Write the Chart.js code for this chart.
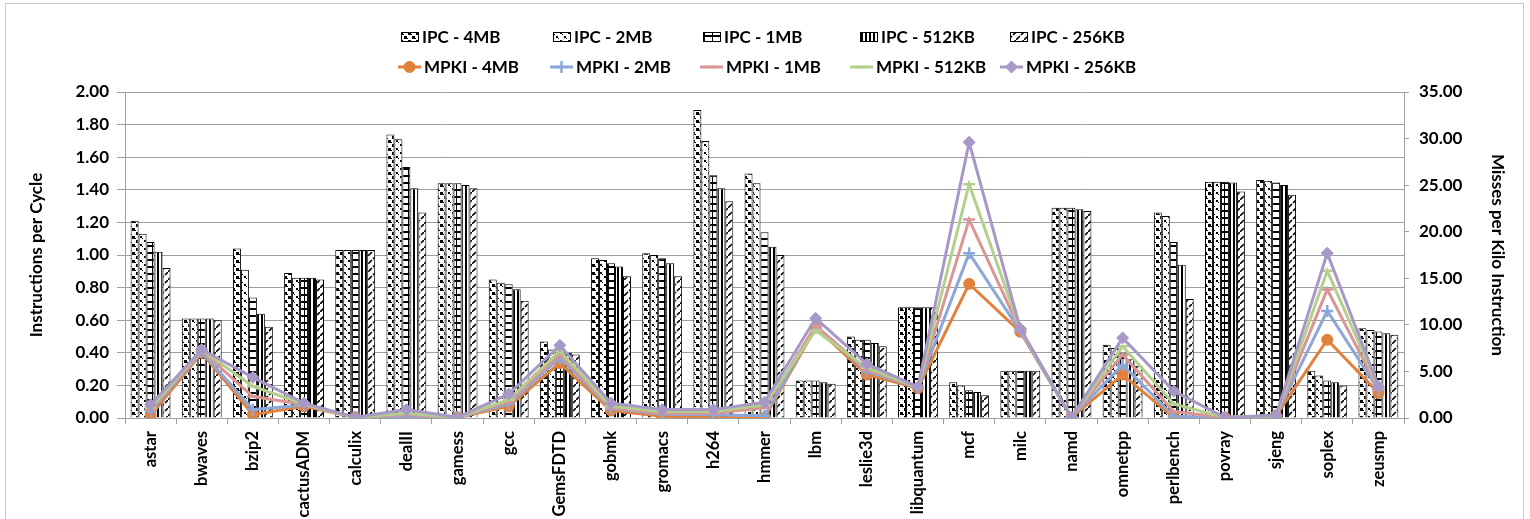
<!DOCTYPE html>
<html>
<head>
<meta charset="utf-8">
<script src="https://cdn.jsdelivr.net/npm/chart.js@4.4.1/dist/chart.umd.min.js"></script>
<style>
  html, body { margin: 0; padding: 0; background: #fff; }
  #wrap { position: relative; width: 1530px; height: 519px; }
</style>
</head>
<body>
<div id="wrap"><canvas id="c" width="1530" height="519"></canvas></div>
<script>
// SPEC CPU2006 benchmarks
const categories = ['astar','bwaves','bzip2','cactusADM','calculix','dealII','gamess','gcc','GemsFDTD','gobmk','gromacs','h264','hmmer','lbm','leslie3d','libquantum','mcf','milc','namd','omnetpp','perlbench','povray','sjeng','soplex','zeusmp'];

// Instructions per cycle, per last-level cache size
const ipc4MB   = [1.21,0.61,1.04,0.89,1.03,1.74,1.44,0.85,0.47,0.98,1.01,1.89,1.50,0.23,0.50,0.68,0.22,0.29,1.29,0.45,1.26,1.45,1.46,0.29,0.55];
const ipc2MB   = [1.13,0.61,0.91,0.86,1.03,1.71,1.44,0.83,0.42,0.97,1.00,1.70,1.44,0.23,0.48,0.68,0.20,0.29,1.29,0.43,1.24,1.45,1.455,0.26,0.54];
const ipc1MB   = [1.08,0.61,0.74,0.86,1.03,1.54,1.44,0.82,0.40,0.95,0.98,1.49,1.14,0.23,0.48,0.68,0.17,0.29,1.29,0.40,1.08,1.45,1.445,0.23,0.53];
const ipc512KB = [1.02,0.61,0.64,0.86,1.03,1.41,1.43,0.79,0.40,0.93,0.95,1.41,1.05,0.22,0.46,0.68,0.16,0.29,1.28,0.36,0.94,1.445,1.43,0.22,0.52];
const ipc256KB = [0.92,0.60,0.56,0.85,1.03,1.26,1.41,0.72,0.39,0.87,0.87,1.33,1.00,0.21,0.44,0.68,0.14,0.29,1.27,0.32,0.73,1.39,1.37,0.20,0.51];

// Misses per kilo instruction, per last-level cache size
const mpki4MB   = [0.25,7.0,0.36,1.25,0.07,0.02,0.07,1.25,5.9,0.8,0.2,0.02,0.02,9.7,4.66,3.2,14.4,9.25,0.05,4.66,0.05,0.05,0.25,8.4,2.7];
const mpki2MB   = [0.7,7.1,0.9,1.4,0.07,0.2,0.07,1.5,6.45,1.0,0.4,0.35,0.25,9.9,5.0,3.25,17.7,9.3,0.05,5.7,0.2,0.05,0.25,11.5,3.0];
const mpki1MB   = [0.9,7.2,2.3,1.45,0.07,0.35,0.07,1.7,6.8,1.1,0.5,0.5,1.1,9.9,5.2,3.3,21.3,9.4,0.05,6.8,0.7,0.05,0.25,13.8,3.1];
const mpki512KB = [1.1,7.3,3.4,1.5,0.07,0.5,0.07,1.97,7.2,1.25,0.7,0.7,1.4,9.4,5.4,3.3,25.1,9.5,0.05,7.7,1.5,0.05,0.25,15.8,3.3];
const mpki256KB = [1.43,7.35,4.37,1.6,0.07,0.9,0.07,2.58,7.8,1.6,0.9,0.9,1.7,10.7,5.8,3.35,29.6,9.6,0.05,8.6,2.9,0.05,0.3,17.7,3.4];

// Axis tick settings
const ipcTicks  = { min: 0, max: 2, step: 0.2 };
const mpkiTicks = { min: 0, max: 35, step: 5 };

const FONT = 'Lato, "Open Sans", sans-serif';

// Black-and-white hatch fills for the IPC bars
function hatch(w, h, draw) {
  const c = document.createElement('canvas');
  c.width = w; c.height = h;
  const g = c.getContext('2d');
  g.fillStyle = '#fff'; g.fillRect(0, 0, w, h);
  g.fillStyle = '#000'; g.strokeStyle = '#000';
  draw(g);
  return g.createPattern(c, 'repeat');
}
const fill4MB = hatch(8, 8, g => { g.fillRect(0, 0, 3, 3); g.fillRect(4, 4, 3, 3); g.fillRect(3, 2, 1, 1); g.fillRect(7, 6, 1, 1); });
const fill2MB = hatch(8, 8, g => { g.fillRect(0, 0, 2, 2); g.fillRect(4, 4, 2, 2); g.fillRect(2, 2, 1, 1); g.fillRect(6, 6, 1, 1); });
const fill1MB = hatch(8, 7, g => { g.fillRect(0, 0, 8, 2); g.fillRect(0, 0, 1, 7); });
const fill512 = hatch(4, 2, g => { g.fillRect(1, 0, 2, 2); });
const fill256 = hatch(8, 8, g => { g.lineWidth = 1.6; g.beginPath(); g.moveTo(0, 8); g.lineTo(4, 4); g.moveTo(5, 3); g.lineTo(8, 0); g.stroke(); });

const lineColors = { m4: '#E2813B', m2: '#8BA8D8', m1: '#D99694', m512: '#B3CF8D', m256: '#A798C8' };

function barSet(label, data, fill) {
  return { type: 'bar', label, data, backgroundColor: fill, borderColor: '#000', borderWidth: 1,
           yAxisID: 'y', order: 10, categoryPercentage: 0.78, barPercentage: 1.0 };
}
function lineSet(label, data, color, style, radius, order) {
  return { type: 'line', label, data, borderColor: color, backgroundColor: color, borderWidth: 3,
           pointStyle: style, pointRadius: radius, pointBorderColor: color, pointBackgroundColor: color,
           pointBorderWidth: style === 'circle' || style === 'rectRot' ? 1 : 2.5,
           tension: 0, yAxisID: 'y1', order };
}

const datasets = [
  barSet('IPC - 4MB', ipc4MB, fill4MB),
  barSet('IPC - 2MB', ipc2MB, fill2MB),
  barSet('IPC - 1MB', ipc1MB, fill1MB),
  barSet('IPC - 512KB', ipc512KB, fill512),
  barSet('IPC - 256KB', ipc256KB, fill256),
  lineSet('MPKI - 4MB', mpki4MB, lineColors.m4, 'circle', 5.5, 5),
  lineSet('MPKI - 2MB', mpki2MB, lineColors.m2, 'cross', 6, 4),
  lineSet('MPKI - 1MB', mpki1MB, lineColors.m1, 'line', 6, 3),
  lineSet('MPKI - 512KB', mpki512KB, lineColors.m512, 'line', 6, 2),
  lineSet('MPKI - 256KB', mpki256KB, lineColors.m256, 'rectRot', 6, 1)
];

// Legend slots: two rows of five, swatch left edge per entry
const legendSlots = [
  { x: 401, y: 37 }, { x: 553, y: 37 }, { x: 703, y: 37 }, { x: 860, y: 37 }, { x: 1010, y: 37 },
  { x: 398, y: 67 }, { x: 550, y: 67 }, { x: 700, y: 67 }, { x: 850, y: 67 }, { x: 1000, y: 67 }
];

const legendPlugin = {
  id: 'fixedLegend',
  beforeDraw(chart) {
    const ctx = chart.ctx;
    ctx.save();
    ctx.fillStyle = '#fff';
    ctx.fillRect(0, 0, chart.width, chart.height);
    ctx.strokeStyle = '#c8c8c8';
    ctx.lineWidth = 1;
    ctx.strokeRect(5.5, 3.5, 1518, 530);
    ctx.restore();
  },
  afterDraw(chart) {
    const ctx = chart.ctx;
    ctx.save();
    ctx.font = 'bold 17px ' + FONT;
    ctx.textBaseline = 'middle';
    ctx.textAlign = 'left';
    chart.data.datasets.forEach((ds, i) => {
      const s = legendSlots[i];
      if (ds.type === 'bar') {
        ctx.fillStyle = ds.backgroundColor;
        ctx.fillRect(s.x, s.y - 5, 18, 10);
        ctx.strokeStyle = '#000';
        ctx.lineWidth = 1;
        ctx.strokeRect(s.x + 0.5, s.y - 4.5, 17, 9);
        ctx.fillStyle = '#000';
        ctx.fillText(ds.label, s.x + 21, s.y + 1);
      } else {
        ctx.strokeStyle = ds.borderColor;
        ctx.lineWidth = 3;
        ctx.beginPath();
        ctx.moveTo(s.x, s.y); ctx.lineTo(s.x + 23, s.y);
        ctx.stroke();
        ctx.fillStyle = ds.borderColor;
        ctx.strokeStyle = ds.borderColor;
        ctx.lineWidth = ds.pointBorderWidth;
        Chart.helpers.drawPoint(ctx, { pointStyle: ds.pointStyle, radius: ds.pointRadius, borderWidth: ds.pointBorderWidth, rotation: 0 }, s.x + 11.5, s.y);
        ctx.fillStyle = '#000';
        ctx.fillText(ds.label, s.x + 26, s.y + 1);
      }
    });
    ctx.restore();
  }
};

const GRID = '#9f9f9f';

new Chart(document.getElementById('c'), {
  data: { labels: categories, datasets },
  plugins: [legendPlugin],
  options: {
    responsive: false,
    animation: false,
    devicePixelRatio: 1,
    layout: { padding: { top: 92, left: 22, right: 18, bottom: 0 } },
    plugins: { legend: { display: false }, tooltip: { enabled: false } },
    scales: {
      x: {
        grid: { drawOnChartArea: false, offset: true, tickLength: 6, color: GRID },
        border: { color: GRID },
        ticks: { color: '#000', font: { family: FONT, weight: 'bold', size: 16.5 }, minRotation: 90, maxRotation: 90, padding: 7, autoSkip: false },
        afterFit(s) { s.height = 101; }
      },
      y: {
        position: 'left',
        min: ipcTicks.min, max: ipcTicks.max,
        grid: { color: GRID, tickLength: 8 },
        border: { color: GRID },
        ticks: { stepSize: ipcTicks.step, color: '#000', padding: 8, font: { family: FONT, weight: 'bold', size: 17 },
                 callback: v => v.toFixed(2) },
        title: { display: true, text: 'Instructions per Cycle', color: '#000', font: { family: FONT, weight: 'bold', size: 17 }, padding: 4 },
        afterFit(s) { s.width = 103; }
      },
      y1: {
        position: 'right',
        min: mpkiTicks.min, max: mpkiTicks.max,
        grid: { drawOnChartArea: false, color: GRID, tickLength: 5 },
        border: { color: GRID },
        ticks: { stepSize: mpkiTicks.step, color: '#000', padding: 10, font: { family: FONT, weight: 'bold', size: 17 },
                 callback: v => v.toFixed(2) },
        title: { display: true, text: 'Misses per Kilo Instruction', color: '#000', font: { family: FONT, weight: 'bold', size: 17 }, padding: 4 },
        afterFit(s) { s.width = 108; }
      }
    }
  }
});
</script>
</body>
</html>
